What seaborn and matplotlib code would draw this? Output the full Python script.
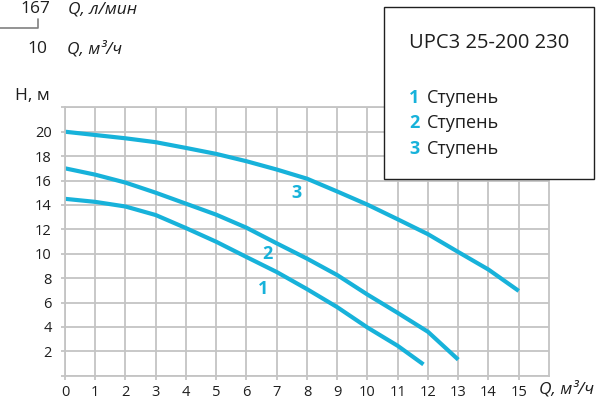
import matplotlib
matplotlib.use("Agg")
import matplotlib.pyplot as plt
import seaborn as sns
import pandas as pd
from matplotlib.lines import Line2D
from matplotlib.patches import Rectangle

# Pump curves: head H (m) vs flow Q (m³/h) for each speed stage
q_stage1 = [0, 1, 2, 3, 4, 5, 6, 7, 8, 9, 10, 11, 11.85]
h_stage1 = [14.5, 14.25, 13.87, 13.17, 12.1, 10.98, 9.73, 8.5, 7.1, 5.62, 3.95, 2.45, 0.93]

q_stage2 = [0, 1, 2, 3, 4, 5, 6, 7, 8, 9, 10, 11, 12, 13]
h_stage2 = [17.0, 16.48, 15.83, 15.0, 14.1, 13.2, 12.13, 10.85, 9.6, 8.25, 6.65, 5.15, 3.6, 1.32]

q_stage3 = [0, 1, 2, 3, 4, 5, 6, 7, 8, 9, 10, 11, 12, 13, 14, 15]
h_stage3 = [20.0, 19.73, 19.46, 19.14, 18.67, 18.18, 17.58, 16.9, 16.15, 15.1, 14.02, 12.82, 11.6, 10.14, 8.7, 6.95]

stage_names = ["1", "2", "3"]
stage_label_pos = [(6.56, 7.07), (6.68, 9.95), (7.65, 15.0)]
x_ticks = list(range(0, 16))
y_ticks = list(range(2, 21, 2))
model_name = "UPC3 25-200 230"
legend_word = "Ступень"

CURVE = "#17b2da"
GRID = "#c4c4c4"
TEXT = "#1e1e1e"

sns.set_theme(style="whitegrid")
plt.rcParams["font.family"] = ["Open Sans", "DejaVu Sans"]

df = pd.concat([
    pd.DataFrame({"Q": q_stage1, "H": h_stage1, "stage": "1"}),
    pd.DataFrame({"Q": q_stage2, "H": h_stage2, "stage": "2"}),
    pd.DataFrame({"Q": q_stage3, "H": h_stage3, "stage": "3"}),
])

fig = plt.figure(figsize=(6.13, 4.01), dpi=100)
ax = fig.add_axes([0.106, 0.063, 0.7896, 0.6694])

sns.lineplot(data=df, x="Q", y="H", hue="stage", palette=[CURVE] * 3,
             linewidth=3.0, legend=False, ax=ax, sort=False)
for line in ax.lines:
    line.set_solid_capstyle("butt")
    line.set_solid_joinstyle("round")

ax.set_xlim(0, 16)
ax.set_ylim(0, 22)
ax.set_xticks(x_ticks)
ax.set_yticks(y_ticks)
ax.set_yticks([0, 22], minor=True)
ax.grid(True, which="both", color=GRID, linewidth=1.3)
ax.set_axisbelow(True)
for s in ax.spines.values():
    s.set_color(GRID)
    s.set_linewidth(1.3)
ax.set_facecolor("white")
ax.set_xlabel("")
ax.set_ylabel("")
ax.tick_params(axis="both", which="major", length=3, width=1.3, color=GRID,
               labelsize=10.5, labelcolor=TEXT)
ax.tick_params(axis="y", pad=6.5, left=True)
ax.tick_params(axis="x", pad=4.0, bottom=True)
ax.tick_params(axis="y", which="minor", length=3, width=1.3, color=GRID, left=True)

for name, (lx, ly) in zip(stage_names, stage_label_pos):
    ax.text(lx, ly, name, color=CURVE, fontsize=13, fontweight="bold",
            ha="center", va="center")

# axis captions
fig.text(15 / 613, 1 - 96.5 / 401, "H, м", fontsize=12.5, color=TEXT,
         ha="left", va="center")
fig.text(539 / 613, 1 - 394 / 401, "Q, м³/ч", fontsize=12.5, style="italic",
         color=TEXT, ha="left", va="baseline")

# flow unit conversion header
fig.text(50 / 613, 1 - 13 / 401, "167", fontsize=12.5, color=TEXT,
         ha="right", va="baseline")
fig.text(68 / 613, 1 - 13 / 401, "Q, л/мин", fontsize=12.5, style="italic",
         color=TEXT, ha="left", va="baseline")
fig.text(47 / 613, 1 - 53.3 / 401, "10", fontsize=12.5, color=TEXT,
         ha="right", va="baseline")
fig.text(67 / 613, 1 - 53.3 / 401, "Q, м³/ч", fontsize=12.5, style="italic",
         color=TEXT, ha="left", va="baseline")
fig.add_artist(Line2D([0, 38 / 613, 38 / 613],
                      [1 - 28 / 401, 1 - 28 / 401, 1 - 19 / 401],
                      transform=fig.transFigure, color="#808080", linewidth=1.2))

# legend panel
fig.add_artist(Rectangle((384 / 613, 1 - 179 / 401), 210 / 613, 172 / 401,
                         transform=fig.transFigure, facecolor="white",
                         edgecolor="#202020", linewidth=1.0, zorder=5))
fig.text(409 / 613, 1 - 48.3 / 401, model_name, fontsize=14.5, color=TEXT,
         ha="left", va="baseline", zorder=6)
for i, base in enumerate([102.7, 128.3, 154.3]):
    fig.text(409 / 613, 1 - base / 401, stage_names[i], fontsize=13,
             fontweight="bold", color=CURVE, ha="left", va="baseline", zorder=6)
    fig.text(427 / 613, 1 - base / 401, legend_word, fontsize=13, color=TEXT,
             ha="left", va="baseline", zorder=6)

fig.savefig("out.png", dpi=100, facecolor="white")
